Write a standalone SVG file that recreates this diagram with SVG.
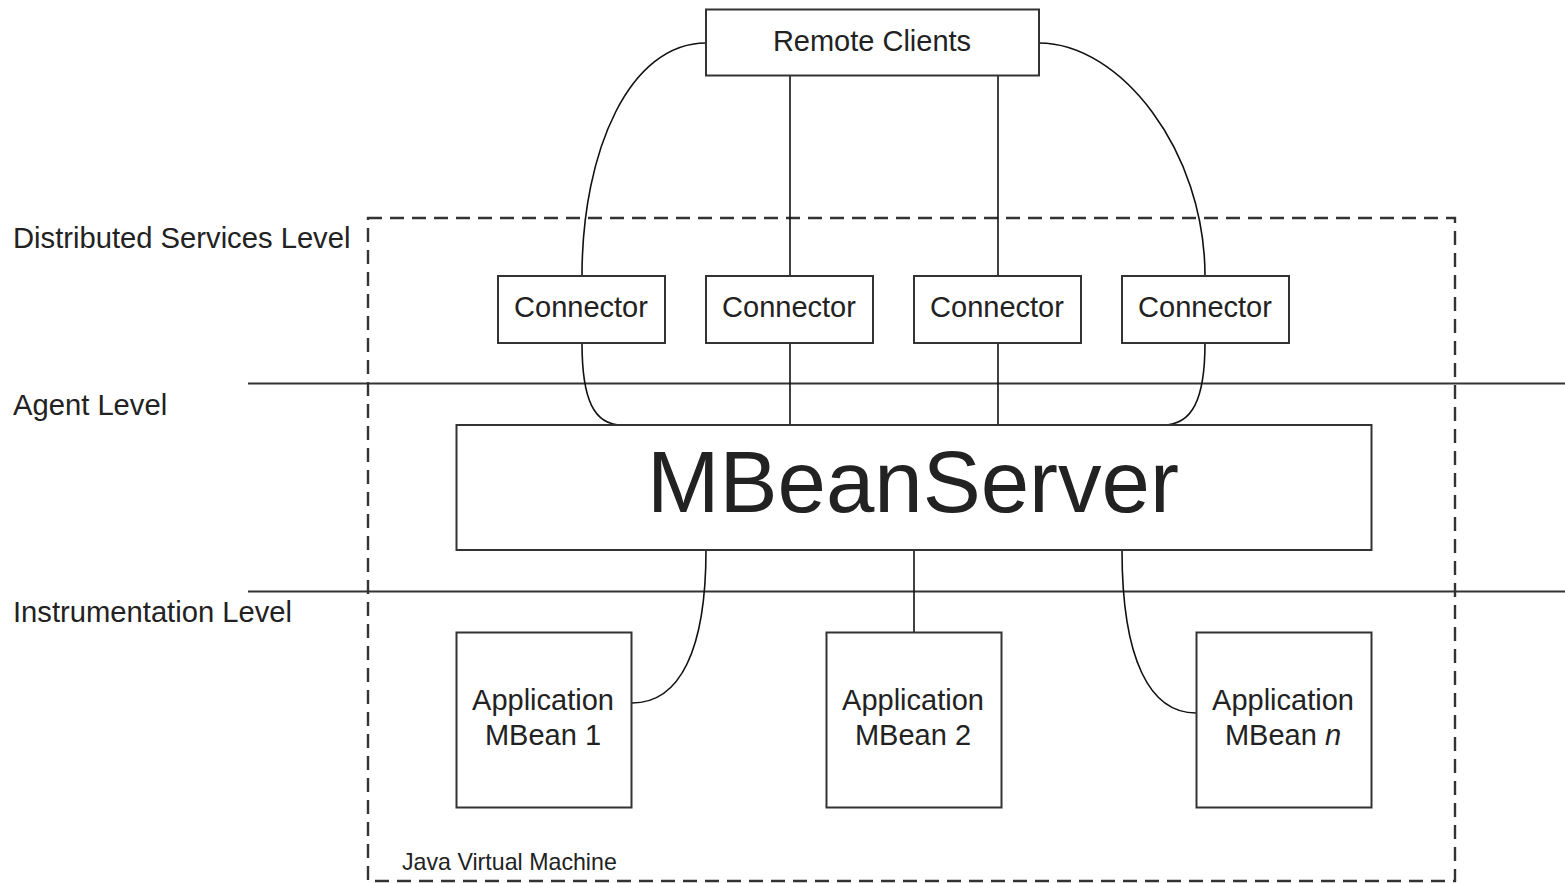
<svg xmlns="http://www.w3.org/2000/svg" width="1565" height="883" viewBox="0 0 1565 883">
<style>
  text { font-family: "Liberation Sans", Arial, sans-serif; fill: #222; }
  .box { fill: #fff; stroke: #333; stroke-width: 2; }
  .lbl { font-size: 29px; text-anchor: middle; }
  .lvl { font-size: 29.2px; }
  .wire { fill: none; stroke: #111; stroke-width: 1.6; }
  .hline { stroke: #333; stroke-width: 2; }
</style>
<rect x="0" y="0" width="1565" height="883" fill="#fff"/>

<g id="levels">
  <line class="hline" x1="248" y1="383.5" x2="1565" y2="383.5"/>
  <line class="hline" x1="248" y1="591.5" x2="1565" y2="591.5"/>
  <text class="lvl" x="13" y="248">Distributed Services Level</text>
  <text class="lvl" x="13" y="415">Agent Level</text>
  <text class="lvl" x="13" y="622">Instrumentation Level</text>
</g>

<g id="jvm">
  <rect x="368" y="218" width="1087" height="663" fill="none" stroke="#333" stroke-width="2.4" stroke-dasharray="14 8"/>
  <text x="402" y="870" font-size="23.2">Java Virtual Machine</text>
</g>

<g id="connectors">
  <path class="wire" d="M706,43 C630,43 582,150 582,276"/>
  <path class="wire" d="M1039,43 C1120,43 1205,150 1205,276"/>
  <line class="wire" x1="790" y1="76" x2="790" y2="276"/>
  <line class="wire" x1="998" y1="76" x2="998" y2="276"/>
  <path class="wire" d="M582,343 C582,400 594,425 622,425"/>
  <path class="wire" d="M1205,343 C1205,400 1192,425 1163,425"/>
  <line class="wire" x1="790" y1="343" x2="790" y2="425"/>
  <line class="wire" x1="998" y1="343" x2="998" y2="425"/>
  <path class="wire" d="M706,550 C706,650 680,703 632,703"/>
  <line class="wire" x1="914" y1="550" x2="914" y2="632"/>
  <path class="wire" d="M1122,550 C1122,660 1150,713 1196,713"/>
</g>

<g id="remote-clients">
  <rect class="box" x="706" y="9.5" width="333" height="66"/>
  <text class="lbl" x="872" y="51">Remote Clients</text>
</g>

<g id="connector-1">
  <rect class="box" x="498" y="276" width="167" height="67"/>
  <text class="lbl" x="581" y="317">Connector</text>
</g>
<g id="connector-2">
  <rect class="box" x="706" y="276" width="167" height="67"/>
  <text class="lbl" x="789" y="317">Connector</text>
</g>
<g id="connector-3">
  <rect class="box" x="914" y="276" width="167" height="67"/>
  <text class="lbl" x="997" y="317">Connector</text>
</g>
<g id="connector-4">
  <rect class="box" x="1122" y="276" width="167" height="67"/>
  <text class="lbl" x="1205" y="317">Connector</text>
</g>

<g id="mbeanserver">
  <rect class="box" x="456.5" y="425" width="915" height="125"/>
  <text x="913" y="512" font-size="87" text-anchor="middle">MBeanServer</text>
</g>

<g id="mbean-1">
  <rect class="box" x="456.5" y="632.5" width="175" height="175"/>
  <text class="lbl" x="543" y="710">Application</text>
  <text class="lbl" x="543" y="745">MBean 1</text>
</g>
<g id="mbean-2">
  <rect class="box" x="826.5" y="632.5" width="175" height="175"/>
  <text class="lbl" x="913" y="710">Application</text>
  <text class="lbl" x="913" y="745">MBean 2</text>
</g>
<g id="mbean-n">
  <rect class="box" x="1196.5" y="632.5" width="175" height="175"/>
  <text class="lbl" x="1283" y="710">Application</text>
  <text class="lbl" x="1283" y="745">MBean <tspan font-style="italic">n</tspan></text>
</g>
</svg>
